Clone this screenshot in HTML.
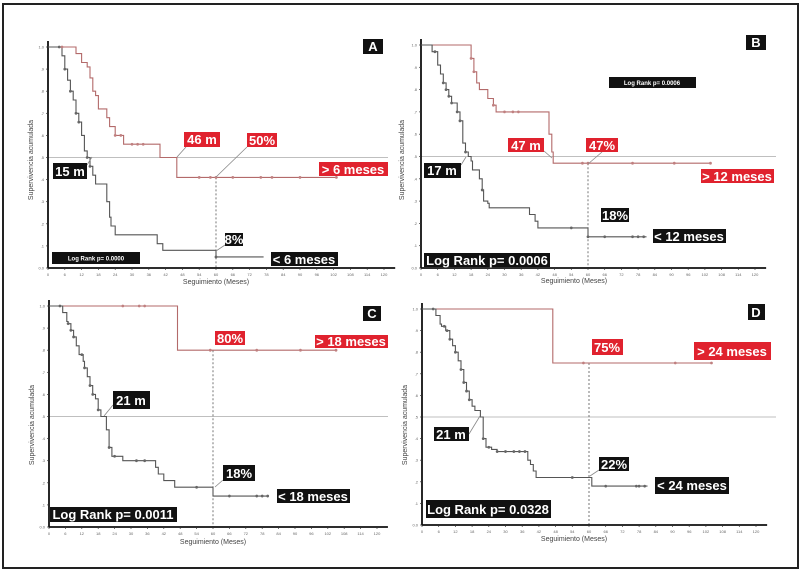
<!DOCTYPE html>
<html><head><meta charset="utf-8"><style>
html,body{margin:0;padding:0;background:#fff}
svg{display:block;font-family:"Liberation Sans",sans-serif}
.lb{font-weight:bold;font-size:13px;fill:#fff}
.big{font-weight:bold;font-size:13px;fill:#fff}
.sm{font-weight:bold;font-size:6px;fill:#fff}
</style></head><body>
<svg id="fig" width="802" height="573" viewBox="0 0 802 573">
<rect x="3" y="4" width="795" height="564" fill="#fff" stroke="#222" stroke-width="2"/>
<g id="plots"></g>

<g>
<rect x="363" y="39" width="20" height="15" fill="#111"/><text x="373" y="51" text-anchor="middle" class="lb">A</text>
<line x1="177" y1="157" x2="186" y2="147" stroke="#888" stroke-width="0.8"/>
<rect x="184" y="132" width="36" height="15" fill="#e0222e"/><text x="202" y="144" text-anchor="middle" class="lb">46 m</text>
<line x1="216" y1="177" x2="247" y2="147" stroke="#888" stroke-width="0.8"/>
<rect x="247" y="133" width="30" height="14" fill="#e0222e"/><text x="262" y="145" text-anchor="middle" class="lb">50%</text>
<line x1="87" y1="165" x2="92" y2="157" stroke="#888" stroke-width="0.8"/>
<rect x="53" y="163" width="34" height="16" fill="#111"/><text x="70" y="176" text-anchor="middle" class="lb">15 m</text>
<rect x="319" y="162" width="69" height="14" fill="#e0222e"/><text x="353" y="174" text-anchor="middle" class="lb">&gt; 6 meses</text>
<line x1="216" y1="251" x2="225" y2="245" stroke="#888" stroke-width="0.8"/>
<rect x="225" y="233" width="18" height="13" fill="#111"/><text x="234" y="244" text-anchor="middle" class="lb">8%</text>
<rect x="271" y="252" width="67" height="14" fill="#111"/><text x="304" y="264" text-anchor="middle" class="lb">&lt; 6 meses</text>
<rect x="52" y="252" width="88" height="12" fill="#111"/><text x="96" y="260.5" text-anchor="middle" class="sm">Log Rank p= 0.0000</text>
</g>

<g>
<rect x="746" y="35" width="20" height="15" fill="#111"/><text x="756" y="47" text-anchor="middle" class="lb">B</text>
<rect x="609" y="77" width="87" height="11" fill="#111"/><text x="652" y="85" text-anchor="middle" class="sm">Log Rank p= 0.0006</text>
<line x1="544" y1="151" x2="552" y2="158" stroke="#888" stroke-width="0.8"/>
<rect x="508" y="138" width="36" height="14" fill="#e0222e"/><text x="526" y="150" text-anchor="middle" class="lb">47 m</text>
<line x1="588" y1="164" x2="602" y2="152" stroke="#888" stroke-width="0.8"/>
<rect x="586" y="138" width="32" height="14" fill="#e0222e"/><text x="602" y="150" text-anchor="middle" class="lb">47%</text>
<line x1="461" y1="165" x2="466" y2="157" stroke="#888" stroke-width="0.8"/>
<rect x="424" y="163" width="37" height="15" fill="#111"/><text x="442" y="175" text-anchor="middle" class="lb">17 m</text>
<rect x="701" y="169" width="73" height="14" fill="#e0222e"/><text x="737" y="181" text-anchor="middle" class="lb">&gt; 12 meses</text>
<rect x="601" y="208" width="28" height="14" fill="#111"/><text x="615" y="220" text-anchor="middle" class="lb">18%</text>
<rect x="653" y="229" width="73" height="14" fill="#111"/><text x="689" y="241" text-anchor="middle" class="lb">&lt; 12 meses</text>
<rect x="424" y="253" width="126" height="14" fill="#111"/><text x="487" y="265" text-anchor="middle" class="big">Log Rank p= 0.0006</text>
</g>

<g>
<rect x="363" y="306" width="18" height="15" fill="#111"/><text x="372" y="318" text-anchor="middle" class="lb">C</text>
<rect x="215" y="331" width="30" height="14" fill="#e0222e"/><text x="230" y="343" text-anchor="middle" class="lb">80%</text>
<rect x="315" y="335" width="73" height="13" fill="#e0222e"/><text x="351" y="346" text-anchor="middle" class="lb">&gt; 18 meses</text>
<line x1="104" y1="416" x2="113" y2="405" stroke="#888" stroke-width="0.8"/>
<rect x="113" y="391" width="37" height="18" fill="#111"/><text x="131" y="405" text-anchor="middle" class="lb">21 m</text>
<line x1="215" y1="487" x2="223" y2="480" stroke="#888" stroke-width="0.8"/>
<rect x="223" y="465" width="32" height="16" fill="#111"/><text x="239" y="478" text-anchor="middle" class="lb">18%</text>
<rect x="277" y="489" width="73" height="14" fill="#111"/><text x="313" y="501" text-anchor="middle" class="lb">&lt; 18 meses</text>
<rect x="50" y="507" width="127" height="15" fill="#111"/><text x="113" y="519" text-anchor="middle" class="big">Log Rank p= 0.0011</text>
</g>

<g>
<rect x="748" y="304" width="17" height="16" fill="#111"/><text x="756" y="317" text-anchor="middle" class="lb">D</text>
<rect x="592" y="339" width="31" height="16" fill="#e0222e"/><text x="607" y="352" text-anchor="middle" class="lb">75%</text>
<rect x="694" y="342" width="77" height="18" fill="#e0222e"/><text x="732" y="356" text-anchor="middle" class="lb">&gt; 24 meses</text>
<line x1="469" y1="434" x2="480" y2="416" stroke="#888" stroke-width="0.8"/>
<rect x="434" y="427" width="35" height="14" fill="#111"/><text x="451" y="439" text-anchor="middle" class="lb">21 m</text>
<line x1="590" y1="476" x2="599" y2="470" stroke="#888" stroke-width="0.8"/>
<rect x="599" y="457" width="30" height="14" fill="#111"/><text x="614" y="469" text-anchor="middle" class="lb">22%</text>
<rect x="655" y="477" width="74" height="17" fill="#111"/><text x="692" y="490" text-anchor="middle" class="lb">&lt; 24 meses</text>
<rect x="426" y="500" width="125" height="18" fill="#111"/><text x="488" y="514" text-anchor="middle" class="big">Log Rank p= 0.0328</text>
</g>
</svg>
<script>
const xTicks = [0,6,12,18,24,30,36,42,48,54,60,66,72,78,84,90,96,102,108,114,120];
const yTicks = [0,0.1,0.2,0.3,0.4,0.5,0.6,0.7,0.8,0.9,1.0];
const yTickLabels = ['0.0','.1','.2','.3','.4','.5','.6','.7','.8','.9','1.0'];

const aRedT = [10,12,14,15,16,17,18,21,22,24,27,40,46];
const aRedS = [0.97,0.93,0.91,0.86,0.80,0.78,0.72,0.68,0.64,0.60,0.56,0.50,0.41];
const aRedEnd = 103;
const aRedCens = [5,24,26,30,32,34,54,58,60,66,76,80,90,103];
const aBlkT = [5,6,7,8,9,10,11,12,13,14,15,16,17,18,21,22,22.5,24,39,41,60];
const aBlkS = [0.96,0.90,0.85,0.80,0.76,0.70,0.66,0.60,0.53,0.50,0.46,0.42,0.38,0.38,0.30,0.23,0.19,0.15,0.11,0.08,0.05];
const aBlkEnd = 77;
const aBlkCens = [4,6,8,10,11,14,15,60];

const bRedT = [18,19,20,21,24,26,27,46,47,47.5];
const bRedS = [0.94,0.88,0.83,0.80,0.76,0.73,0.70,0.60,0.52,0.47];
const bRedEnd = 104;
const bRedCens = [18,19,26,30,33,35,58,60,76,91,104];
const bBlkT = [4,6,7,8,9,10,11,13,14,15,16,17,18,18.5,21,22,22.5,24,24.5,39,41,42,60];
const bBlkS = [0.97,0.91,0.87,0.83,0.80,0.77,0.74,0.70,0.66,0.56,0.52,0.50,0.48,0.44,0.40,0.35,0.30,0.29,0.27,0.24,0.21,0.18,0.14];
const bBlkEnd = 81;
const bBlkCens = [5,8,9,10,11,13,14,16,22,54,60,66,76,78,80];

const cRedT = [47];
const cRedS = [0.80];
const cRedEnd = 105;
const cRedCens = [27,33,35,59,76,92,105];
const cBlkT = [5,6.5,7,8,9,10,11,12.5,13,14,15,16,17,18,19,21,22,23,27,39,40,42,46,60];
const cBlkS = [0.97,0.93,0.92,0.89,0.86,0.82,0.78,0.75,0.72,0.68,0.64,0.60,0.58,0.53,0.50,0.44,0.36,0.32,0.30,0.27,0.24,0.21,0.18,0.14];
const cBlkEnd = 80;
const cBlkCens = [4,7,8,9,12,13,15,16,18,22,24,32,35,54,66,76,78,80];

const dRedT = [47];
const dRedS = [0.75];
const dRedEnd = 104;
const dRedCens = [58,91,104];
const dBlkT = [5,6.5,7,8.5,10,11,12,13,14,15,16,17,18,19,21,22,23,25,27,38,39,40,41,46,61];
const dBlkS = [0.97,0.93,0.92,0.90,0.86,0.83,0.80,0.76,0.72,0.66,0.62,0.58,0.55,0.53,0.50,0.40,0.36,0.35,0.34,0.30,0.28,0.25,0.22,0.22,0.18];
const dBlkEnd = 81;
const dBlkCens = [4,8,9,10,12,14,15,16,17,22,24,27,30,33,35,37,54,66,77,78,80];

const panels = [
  {id:'a', ox:48, x60:216, y1:47, y0:268, right:388, redT:aRedT, redS:aRedS, redEnd:aRedEnd, redC:aRedCens, blkT:aBlkT, blkS:aBlkS, blkEnd:aBlkEnd, blkC:aBlkCens, vTop:0.41, title:[216,284], ytitle:[33,160]},
  {id:'b', ox:421, x60:588, y1:45, y0:268, right:776, redT:bRedT, redS:bRedS, redEnd:bRedEnd, redC:bRedCens, blkT:bBlkT, blkS:bBlkS, blkEnd:bBlkEnd, blkC:bBlkCens, vTop:0.47, title:[574,283], ytitle:[404,160]},
  {id:'c', ox:49, x60:213, y1:306, y0:527, right:388, redT:cRedT, redS:cRedS, redEnd:cRedEnd, redC:cRedCens, blkT:cBlkT, blkS:cBlkS, blkEnd:cBlkEnd, blkC:cBlkCens, vTop:0.80, title:[213,544], ytitle:[34,425]},
  {id:'d', ox:422, x60:589, y1:309, y0:525, right:776, redT:dRedT, redS:dRedS, redEnd:dRedEnd, redC:dRedCens, blkT:dBlkT, blkS:dBlkS, blkEnd:dBlkEnd, blkC:dBlkCens, vTop:0.75, title:[574,541], ytitle:[407,425]}
];

const NS = 'http://www.w3.org/2000/svg';
const root = document.getElementById('plots');
function mk(tag, attrs, parent){
  const e = document.createElementNS(NS, tag);
  for (const k in attrs) e.setAttribute(k, attrs[k]);
  (parent||root).appendChild(e);
  return e;
}
function survAt(T, S, t){
  let s = 1;
  for (let i=0;i<T.length;i++){ if (T[i] <= t) s = S[i]; }
  return s;
}
function stairPath(T, S, end, xs, ys){
  let d = 'M' + xs(0) + ' ' + ys(1);
  for (let i=0;i<T.length;i++){
    d += ' H' + xs(T[i]).toFixed(1) + ' V' + ys(S[i]).toFixed(1);
  }
  d += ' H' + xs(end).toFixed(1);
  return d;
}

panels.forEach(p => {
  const xs = t => p.ox + t*(p.x60-p.ox)/60;
  const ys = s => p.y0 - s*(p.y0-p.y1);
  const g = mk('g', {});
  
  

  const ref = mk('line', {x1:p.ox, x2:p.right, y1:ys(0.5), y2:ys(0.5), stroke:'#aaa', 'stroke-width':0.8}, g);
  
  
  const v = mk('line', {x1:xs(60), x2:xs(60), y1:ys(p.vTop), y2:p.y0, stroke:'#555', 'stroke-width':0.8, 'stroke-dasharray':'2,2'}, g);
  
  

  const ya = mk('line', {x1:p.ox, x2:p.ox, y1:p.y0, y2:p.y1-6, stroke:'#111', 'stroke-width':1.8}, g);
  
  
  const xa = mk('line', {x1:p.ox, x2:xs(124), y1:p.y0, y2:p.y0, stroke:'#111', 'stroke-width':1.8}, g);
  
  
  xTicks.forEach(t => {
    const tk = mk('line', {x1:xs(t), x2:xs(t), y1:p.y0, y2:p.y0+2, stroke:'#333', 'stroke-width':0.7}, g);
    
    
    const tl = mk('text', {x:xs(t), y:p.y0+8, 'font-size':4, fill:'#666', 'text-anchor':'middle'}, g);
    tl.textContent = t;
    
    
  });
  yTicks.forEach((s,i) => {
    const tk = mk('line', {x1:p.ox-2, x2:p.ox, y1:ys(s), y2:ys(s), stroke:'#333', 'stroke-width':0.7}, g);
    
    
    const tl = mk('text', {x:p.ox-4, y:ys(s)+1.5, 'font-size':4, fill:'#666', 'text-anchor':'end'}, g);
    tl.textContent = yTickLabels[i];
    
    
  });
  const xt = mk('text', {x:p.title[0], y:p.title[1], 'font-size':7, fill:'#444', 'text-anchor':'middle'}, g);
  xt.textContent = 'Seguimiento (Meses)';
  
  
  const yt = mk('text', {x:p.ytitle[0], y:p.ytitle[1], 'font-size':7, fill:'#444', 'text-anchor':'middle', transform:'rotate(-90 '+p.ytitle[0]+' '+p.ytitle[1]+')'}, g);
  yt.textContent = 'Supervivencia acumulada';
  
  

  const red = mk('path', {d:stairPath(p.redT,p.redS,p.redEnd,xs,ys), fill:'none', stroke:'#b36a6a', 'stroke-width':1.1}, g);
  
  
  const blk = mk('path', {d:stairPath(p.blkT,p.blkS,p.blkEnd,xs,ys), fill:'none', stroke:'#555', 'stroke-width':1.1}, g);
  
  
  p.redC.forEach(t => {
    const c = mk('circle', {cx:xs(t), cy:ys(survAt(p.redT,p.redS,t)), r:1.4, fill:'#c08080'}, g);
    
    
  });
  p.blkC.forEach(t => {
    const c = mk('circle', {cx:xs(t), cy:ys(survAt(p.blkT,p.blkS,t)), r:1.4, fill:'#666'}, g);
    
    
  });
});
</script>
</body></html>
